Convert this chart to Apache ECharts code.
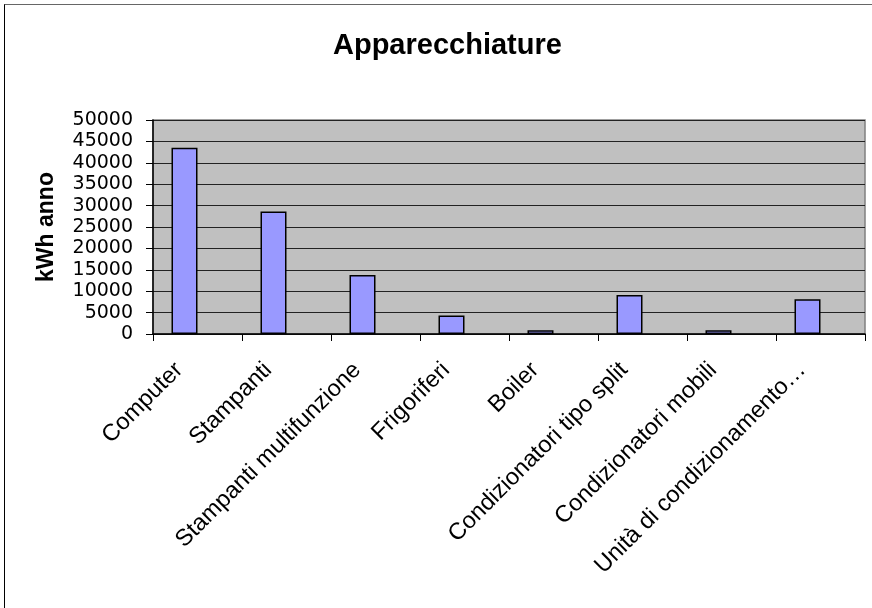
<!DOCTYPE html>
<html>
<head>
<meta charset="utf-8">
<script src="https://cdn.jsdelivr.net/npm/echarts@6/dist/echarts.min.js"></script>
<style>
  html, body { margin: 0; padding: 0; background: #fff; }
  #wrap { position: relative; width: 872px; height: 608px; }
  #chart { position: absolute; left: 0; top: 0; width: 872px; height: 608px; }
  #frame { position: absolute; left: 4px; top: 4px; width: 868px; height: 604px;
           border-left: 1.5px solid #000; border-top: 1.5px solid #666; pointer-events: none; box-sizing: border-box; }
</style>
</head>
<body>
<div id="wrap">
  <div id="chart"></div>
  <div id="frame"></div>
</div>
<script>
const titleText = 'Apparecchiature';
const yAxisName = 'kWh anno';
const categories = [
  'Computer',
  'Stampanti',
  'Stampanti multifunzione',
  'Frigoriferi',
  'Boiler',
  'Condizionatori tipo split',
  'Condizionatori mobili',
  'Unità di condizionamento…'
];
const consumiKWh = [43500, 28600, 13800, 4300, 900, 9100, 900, 8100];
const emptySeries = [null, null, null, null, null, null, null, null];
const yMin = 0, yMax = 50000, yStep = 5000;

const chart = echarts.init(document.getElementById('chart'), null, { renderer: 'canvas' });
const font = 'Liberation Sans, Arial, sans-serif';
chart.setOption({
  animation: false,
  backgroundColor: '#fff',
  title: {
    text: titleText,
    left: 328,
    top: 26,
    textStyle: { fontFamily: font, fontSize: 29, fontWeight: 'bold', color: '#000' }
  },
  grid: {
    left: 153, right: 7, top: 120, bottom: 274,
    show: true, backgroundColor: '#C0C0C0', borderColor: '#808080', borderWidth: 1.5
  },
  xAxis: {
    type: 'category',
    data: categories,
    boundaryGap: true,
    axisLine: { lineStyle: { color: '#000', width: 1.5 } },
    axisTick: { show: true, length: 7, lineStyle: { color: '#000' } },
    axisLabel: {
      interval: 0, rotate: 45, margin: 14, padding: [0, 26, 0, 0],
      fontFamily: font, fontSize: 23.5, color: '#000'
    },
    splitLine: { show: false }
  },
  yAxis: {
    type: 'value',
    min: yMin, max: yMax, interval: yStep,
    name: yAxisName,
    nameLocation: 'middle',
    nameGap: 95,
    nameRotate: 90,
    nameTextStyle: { fontFamily: font, fontSize: 23, fontWeight: 'bold', color: '#000' },
    axisLine: { show: true, lineStyle: { color: '#000', width: 1.5 } },
    axisTick: { show: true, length: 7, lineStyle: { color: '#000' } },
    axisLabel: {
      margin: 20, fontFamily: 'DejaVu Sans, sans-serif', fontSize: 19, color: '#000',
      showMinLabel: true, showMaxLabel: true,
      formatter: function (v) { return String(v); }
    },
    splitLine: { show: true, lineStyle: { color: '#222', width: 1 } }
  },
  series: [
    {
      type: 'bar',
      data: consumiKWh,
      barWidth: 26,
      barGap: '0%',
      itemStyle: { color: '#9999FF', borderColor: '#000', borderWidth: 1.5 }
    },
    {
      type: 'bar',
      data: emptySeries,
      barWidth: 26,
      barGap: '0%',
      itemStyle: { color: '#993366', borderColor: '#000', borderWidth: 1.5 }
    }
  ]
});
</script>
</body>
</html>
